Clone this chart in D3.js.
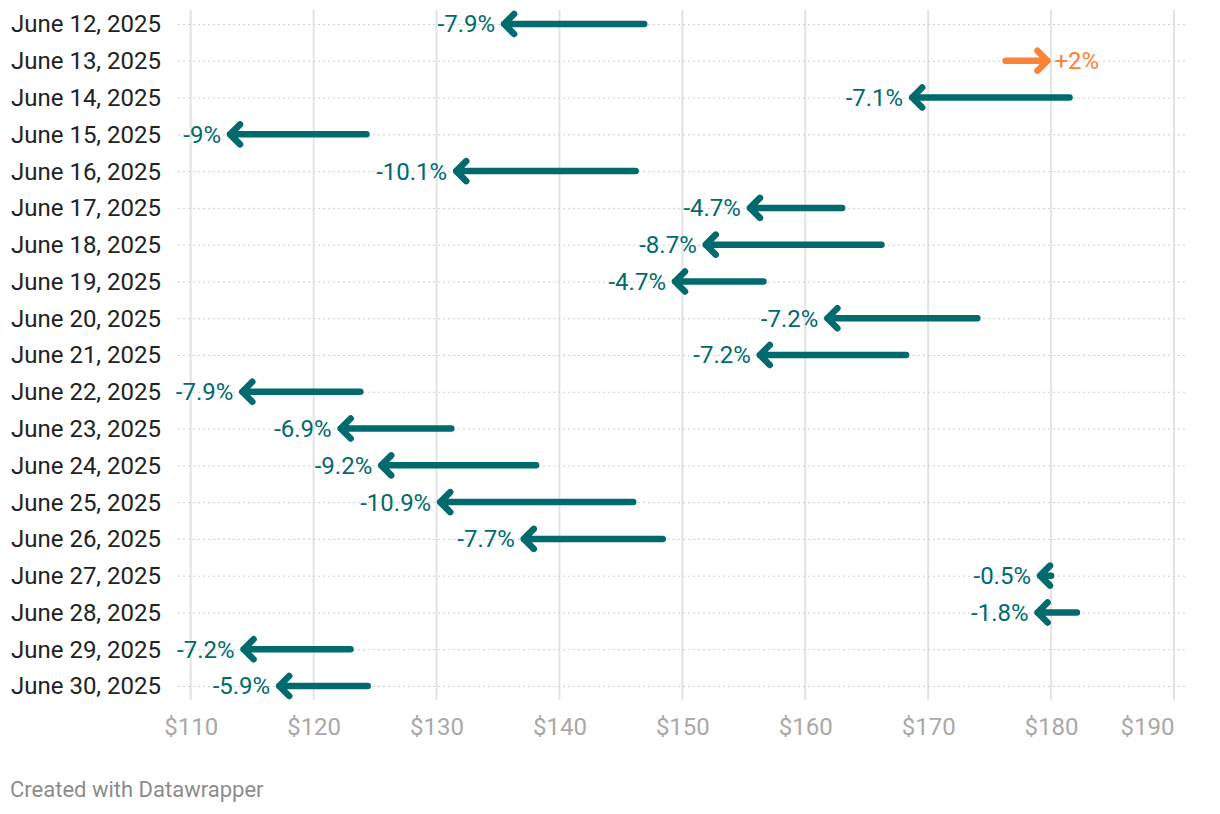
<!DOCTYPE html>
<meta charset="utf-8">
<style>
    body { margin: 0; background: #fff; }
    text { font-family: Roboto, "Noto Sans", sans-serif; }
    .grid line { stroke: #e3e3e3; stroke-width: 2px; }
    .row-line { stroke: #cfcfcf; stroke-width: 1px; stroke-dasharray: 2,3; }
    .arrow { fill: none; stroke-width: 6.5px; stroke-linecap: round; stroke-linejoin: round; }
</style>
<body>
<svg width="1220" height="814"></svg>
<script src="https://d3js.org/d3.v7.min.js"></script>
<script>
    const dates = ["June 12, 2025", "June 13, 2025", "June 14, 2025", "June 15, 2025", "June 16, 2025",
        "June 17, 2025", "June 18, 2025", "June 19, 2025", "June 20, 2025", "June 21, 2025",
        "June 22, 2025", "June 23, 2025", "June 24, 2025", "June 25, 2025", "June 26, 2025",
        "June 27, 2025", "June 28, 2025", "June 29, 2025", "June 30, 2025"];
    const startPrice = [146.9, 176.3, 181.5, 124.3, 146.2, 163.0, 166.2, 156.6, 174.0, 168.2,
        123.8, 131.2, 138.1, 146.0, 148.4, 180.0, 182.1, 123.0, 124.4];
    const endPrice = [135.5, 179.7, 168.7, 113.2, 131.6, 155.5, 151.9, 149.4, 161.8, 156.3,
        114.2, 122.2, 125.5, 130.3, 137.1, 179.1, 178.9, 114.3, 117.2];
    const changeLabels = ["-7.9%", "+2%", "-7.1%", "-9%", "-10.1%", "-4.7%", "-8.7%", "-4.7%", "-7.2%", "-7.2%",
        "-7.9%", "-6.9%", "-9.2%", "-10.9%", "-7.7%", "-0.5%", "-1.8%", "-7.2%", "-5.9%"];
    const xTicks = [110, 120, 130, 140, 150, 160, 170, 180, 190];

    const teal = "#006a6d", orange = "#fb8336";

    const svg = d3.select("svg");

    const x = d3.scaleLinear().domain([110, 190]).range([190.7, 1174]);
    const y = d3.scalePoint().domain(dates).range([24, 686]);

    // vertical gridlines
    svg.append("g").attr("class", "grid")
        .selectAll("line").data(xTicks).enter().append("line")
        .attr("x1", d => x(d)).attr("x2", d => x(d))
        .attr("y1", 10).attr("y2", 700);

    // dotted row lines
    svg.selectAll(".row-line").data(dates).enter().append("line")
        .attr("class", "row-line")
        .attr("x1", 178).attr("x2", 1188)
        .attr("y1", d => y(d) + 0.5).attr("y2", d => y(d) + 0.5);

    // x axis labels (last one right-aligned to its gridline)
    const xAxis = d3.axisBottom(x).tickValues(xTicks).tickSize(0).tickPadding(0)
        .tickFormat(d => "$" + d);
    svg.append("g").attr("transform", "translate(0,727)").call(xAxis)
        .call(g => g.select(".domain").remove())
        .selectAll("text")
        .attr("font-size", 24).attr("fill", "#a9a9a9")
        .attr("font-family", "Roboto").attr("y", 0).attr("dy", "0.35em")
        .attr("text-anchor", (d, i) => i === xTicks.length - 1 ? "end" : "middle");

    // date labels
    svg.selectAll(".date").data(dates).enter().append("text")
        .attr("class", "date")
        .attr("x", 161).attr("y", d => y(d))
        .attr("dy", "0.35em").attr("text-anchor", "end")
        .attr("font-size", 24).attr("fill", "#222")
        .text(d => d);

    const rows = dates.map((d, i) => ({ date: d, s: startPrice[i], e: endPrice[i], label: changeLabels[i] }));

    const g = svg.selectAll(".row").data(rows).enter().append("g");

    g.append("path")
        .attr("class", "arrow")
        .attr("stroke", d => d.e > d.s ? orange : teal)
        .attr("d", d => {
            const x0 = x(d.s), x1 = x(d.e), yy = y(d.date);
            const dir = x1 > x0 ? 1 : -1;
            const hx = x1 - dir * 10;
            return "M" + x0 + "," + yy + "L" + x1 + "," + yy +
                "M" + hx + "," + (yy - 10) + "L" + x1 + "," + yy + "L" + hx + "," + (yy + 10);
        });

    g.append("text")
        .attr("x", d => d.e > d.s ? x(d.e) + 7 : x(d.e) - 9)
        .attr("y", d => y(d.date))
        .attr("dy", "0.35em")
        .attr("text-anchor", d => d.e > d.s ? "start" : "end")
        .attr("font-size", 24)
        .attr("fill", d => d.e > d.s ? orange : teal)
        .text(d => d.label);

    svg.append("text")
        .attr("x", 10).attr("y", 797)
        .attr("font-size", 22).attr("fill", "#8c8c8c")
        .text("Created with Datawrapper");
</script>
</body>
